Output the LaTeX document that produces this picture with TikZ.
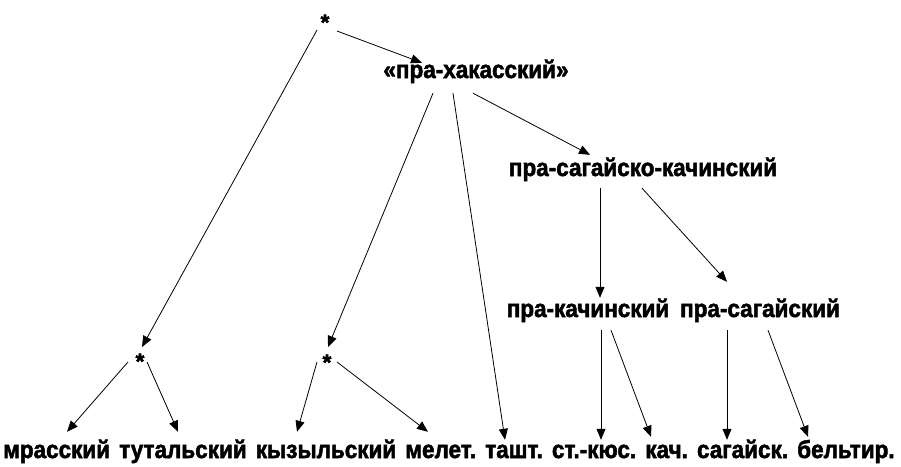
\documentclass[tikz,border=0pt]{standalone}
\usepackage{fontspec}
\usepackage{graphicx}
\newfontfamily\hv{Liberation Sans}[UprightFont=* Bold, FakeBold=2.2]
\newcommand{\tall}[1]{\scalebox{1}[1.1]{#1}}
\usetikzlibrary{arrows.meta,calc}
\begin{document}
\begin{tikzpicture}[x=1pt,y=-1pt,
  lbl/.style={font=\hv\fontsize{22.5}{24}\selectfont, inner sep=0pt, text height=12pt, text depth=4pt, anchor=base},
  wrd/.style={lbl, anchor=base west},
  star/.style={circle, inner sep=0pt, minimum size=22pt, font=\hv\fontsize{22.5}{24}\selectfont},
  arr/.style={draw, line width=0.8pt, -{Triangle[length=11pt,width=9pt]}}]
\useasboundingbox (0,0) rectangle (901,466);
\fill[white] (0,0) rectangle (901,466);
% nodes
\node[star] (s0) at (325,17) {\smash{\raisebox{-0.58em}{*}}};
\node[lbl] (ph) at (476,78) {\tall{«пра-хакасский»}};
\node[lbl] (psk) at (643,176) {\tall{пра-сагайско-качинский}};
\node[lbl] (pk) at (588,317) {\tall{пра-качинский}};
\node[lbl] (pc) at (760,317) {\tall{пра-сагайский}};
\node[star] (s1) at (140,356) {\smash{\raisebox{-0.58em}{*}}};
\node[star] (s2) at (327,357) {\smash{\raisebox{-0.58em}{*}}};
\node[wrd] (w1) at (3,458) {\tall{мрасский}};
\node[wrd] (w2) at ($(w1.base east)+(8.75,0)$) {\tall{тутальский}};
\node[wrd] (w3) at ($(w2.base east)+(8.75,0)$) {\tall{кызыльский}};
\node[wrd] (w4) at ($(w3.base east)+(8.75,0)$) {\tall{мелет.}};
\node[wrd] (w5) at ($(w4.base east)+(8.75,0)$) {\tall{ташт.}};
\node[wrd] (w6) at ($(w5.base east)+(8.75,0)$) {\tall{ст.-кюс.}};
\node[wrd] (w7) at ($(w6.base east)+(8.75,0)$) {\tall{кач.}};
\node[wrd] (w8) at ($(w7.base east)+(8.75,0)$) {\tall{сагайск.}};
\node[wrd] (w9) at ($(w8.base east)+(8.75,0)$) {\tall{бельтир.}};
% connectors
\draw[arr] ($(s0)+(-8,13)$) -- ($(s1)+(2,-9)$);
\draw[arr] ($(s0)+(12,14)$) -- ($(ph.north)+(-54,-3)$);
\draw[arr] ($(ph.south)+(-43,11)$) -- ($(s2)+(1,-10)$);
\draw[arr] ($(ph.south)+(-23,11)$) -- ($(505,0 |- w5.north)+(0,-6)$);
\draw[arr] ($(ph.south)+(-3,11)$) -- ($(psk.north)+(-53,-9)$);
\draw[arr] ($(psk.south)+(-43,8)$) -- ($(pk.north)+(12,-7)$);
\draw[arr] ($(psk.south)+(-1,8)$) -- ($(pc.north)+(-33,-23)$);
\draw[arr] ($(pk.south)+(13,9)$) -- ($(601,0 |- w6.north)+(0,-6)$);
\draw[arr] ($(pk.south)+(23,9)$) -- ($(651,0 |- w7.north)+(0,-9)$);
\draw[arr] ($(pc.south)+(-33,9)$) -- ($(727,0 |- w8.north)+(0,-6)$);
\draw[arr] ($(pc.south)+(8,9)$) -- ($(808,0 |- w9.north)+(0,-9)$);
\draw[arr] ($(s1)+(-12,6)$) -- ($(67,0 |- w1.north)+(0,-14)$);
\draw[arr] ($(s1)+(7,6)$) -- ($(178,0 |- w2.north)+(0,-14)$);
\draw[arr] ($(s2)+(-10,5)$) -- ($(297,0 |- w3.north)+(0,-14)$);
\draw[arr] ($(s2)+(10,5)$) -- ($(428,0 |- w4.north)+(0,-14)$);
\end{tikzpicture}
\end{document}
